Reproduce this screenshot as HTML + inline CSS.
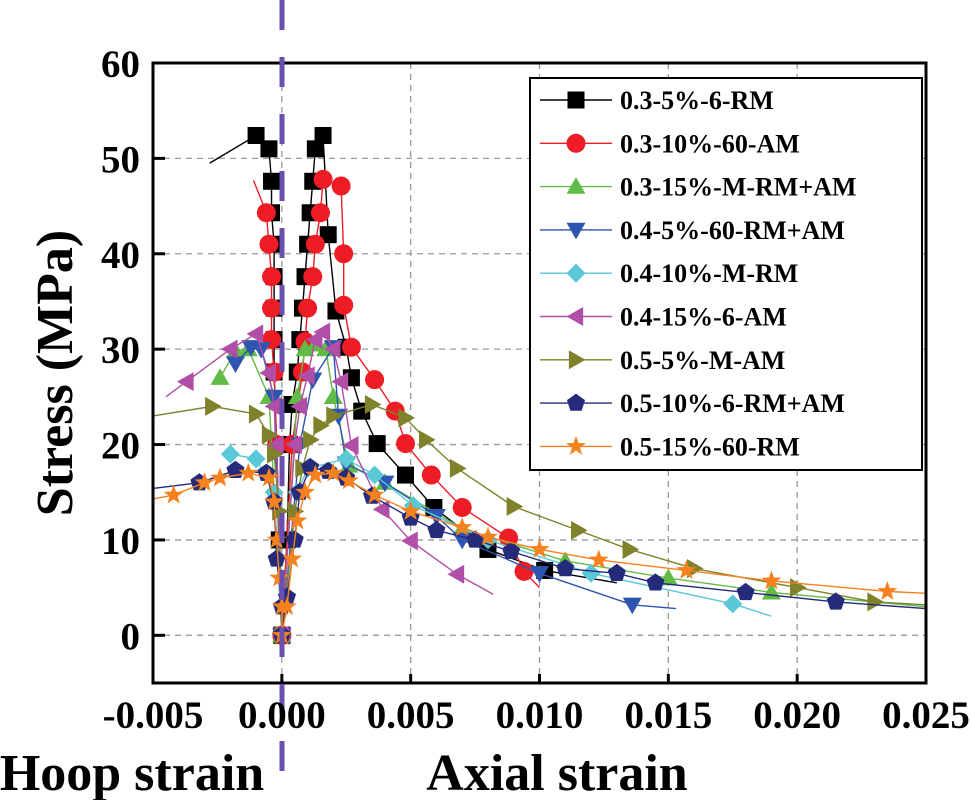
<!DOCTYPE html>
<html><head><meta charset="utf-8"><style>
body{margin:0;background:#fff;}
svg{display:block;font-family:"Liberation Serif",serif;font-weight:bold;}
</style></head><body>
<svg id="chart" width="971" height="800" xmlns="http://www.w3.org/2000/svg">
<defs><clipPath id="plotclip"><rect x="153" y="63" width="773" height="620"/></clipPath></defs>
<g id="grid"></g>
<g id="series" clip-path="url(#plotclip)"></g>
<rect x="153" y="63" width="773" height="620" fill="none" stroke="#000" stroke-width="3"/>
<line x1="282" y1="0" x2="282" y2="778" stroke="#6a4fb0" stroke-width="5" stroke-dasharray="30,27"/>
<g id="ticks"></g>
<text transform="translate(72,373) rotate(-90)" text-anchor="middle" font-size="52">Stress (MPa)</text>
<text x="132" y="790" text-anchor="middle" font-size="52">Hoop strain</text>
<text x="557" y="790" text-anchor="middle" font-size="52">Axial strain</text>
<g id="legend"></g>
</svg>
<script>
const seriesNames=["0.3-5%-6-RM","0.3-10%-60-AM","0.3-15%-M-RM+AM","0.4-5%-60-RM+AM","0.4-10%-M-RM","0.4-15%-6-AM","0.5-5%-M-AM","0.5-10%-6-RM+AM","0.5-15%-60-RM"];
const hoop1=[[0,0],[-0.0001,10],[-0.0002,20],[-0.0003,27.6],[-0.0003,31],[-0.0003,34.3],[-0.0003,37.6],[-0.0003,41],[-0.0004,44.3],[-0.0004,47.6],[-0.0005,51],[-0.0010,52.4],[-0.0028,49.5]];
const axial1=[[0,0],[0.0002,10],[0.0003,20],[0.0004,24.2],[0.0006,27.6],[0.0007,31],[0.0008,34.3],[0.0009,37.6],[0.0010,41],[0.0011,44.3],[0.0012,47.6],[0.0013,51],[0.0016,52.4],[0.0018,42],[0.0021,34],[0.0025,30.2],[0.0027,27],[0.0031,23.5],[0.0037,20.1],[0.0048,16.8],[0.0059,13.4],[0.0080,9],[0.0102,6.8],[0.0130,5.5]];
const hoop2=[[0,0],[-0.0002,20],[-0.0003,27.6],[-0.0004,31],[-0.0004,34.3],[-0.0004,37.6],[-0.0005,41],[-0.0006,44.3],[-0.0011,47.7]];
const axial2=[[0,0],[0.0004,20],[0.0008,27.6],[0.0009,30.8],[0.0010,34.3],[0.0012,37.6],[0.0013,41],[0.0015,44.3],[0.0016,47.8],[0.0023,47.1],[0.0024,40],[0.0024,34.6],[0.0027,30.2],[0.0036,26.8],[0.0044,23.5],[0.0048,20.1],[0.0058,16.8],[0.0070,13.4],[0.0088,10.2],[0.0094,6.7],[0.0100,5]];
const hoop3=[[0,0],[-0.0005,25],[-0.0013,30],[-0.0018,29.8],[-0.0024,27]];
const axial3=[[0,0],[0.0006,25],[0.0009,30],[0.0013,30.5],[0.0017,30],[0.0020,25],[0.0026,17.8],[0.0040,16],[0.0070,11.2],[0.0110,7.8],[0.0150,6],[0.0190,4.5],[0.0250,3]];
const hoop4=[[0,0],[-0.0003,25],[-0.0008,30],[-0.0012,30.2],[-0.0018,28.5]];
const axial4=[[0,0],[0.0007,20],[0.0012,26.8],[0.0020,30.2],[0.0022,23],[0.0025,18],[0.0040,16],[0.0060,12.5],[0.0070,10],[0.0100,6.5],[0.0136,3.2],[0.0153,2.8]];
const hoop5=[[0,0],[-0.0003,15],[-0.0010,18.5],[-0.0020,19]];
const axial5=[[0,0],[0.0006,15],[0.0010,17.5],[0.0025,18.5],[0.0036,16.8],[0.0051,13.6],[0.0080,10],[0.0120,6.5],[0.0175,3.3],[0.0190,2]];
const hoop6=[[0,0],[-0.0002,20],[-0.0003,24],[-0.0005,27.5],[-0.0010,31.6],[-0.0020,30],[-0.0037,26.6],[-0.0045,25]];
const axial6=[[0,0],[0.0005,20],[0.0007,24],[0.0010,27.2],[0.0013,31],[0.0016,31.8],[0.0020,30],[0.0023,26.6],[0.0027,19.9],[0.0039,13.2],[0.0050,9.9],[0.0068,6.4],[0.0082,4.3]];
const hoop7=[[0,0],[-0.0001,13],[-0.0003,19],[-0.0005,21],[-0.0010,23.2],[-0.0027,24],[-0.0050,23]];
const axial7=[[0,0],[0.0005,13],[0.0008,17.5],[0.0011,20.5],[0.0015,22],[0.0020,23],[0.0035,24.2],[0.0048,22.8],[0.0056,20.5],[0.0068,17.5],[0.0090,13.5],[0.0115,11],[0.0135,9],[0.0160,7],[0.0200,5],[0.0230,3.5],[0.0250,3.2]];
const hoop8=[[0,0],[0,3],[-0.0002,8],[-0.0003,14],[-0.0006,17],[-0.0018,17.3],[-0.0032,16],[-0.0050,15.4]];
const axial8=[[0,0],[0.0002,4],[0.0005,10],[0.0007,15],[0.0011,17.6],[0.0018,17.2],[0.0025,16.5],[0.0035,14.6],[0.0050,12.3],[0.0060,11],[0.0075,10],[0.0089,8.8],[0.0110,7],[0.0130,6.5],[0.0145,5.5],[0.0180,4.5],[0.0215,3.5],[0.0250,2.8]];
const hoop9=[[0,0],[0,3],[-0.0001,6],[-0.0002,10],[-0.0003,14],[-0.0005,16.5],[-0.0013,17],[-0.0024,16.5],[-0.0030,16],[-0.0042,14.7],[-0.0050,14.3]];
const axial9=[[0,0],[0.0002,3],[0.0004,8],[0.0006,12],[0.0009,15],[0.0013,16.8],[0.0020,17],[0.0026,16.2],[0.0036,14.7],[0.0050,13],[0.0070,11.3],[0.0080,10.3],[0.0100,9],[0.0123,7.9],[0.0157,6.8],[0.0190,5.7],[0.0235,4.6],[0.0250,4.4]];
const xTicks=[-0.005,0.000,0.005,0.010,0.015,0.020,0.025];
const xTickLabels=["-0.005","0.000","0.005","0.010","0.015","0.020","0.025"];
const yTicks=[0,10,20,30,40,50,60];
const yTickLabels=["0","10","20","30","40","50","60"];

const NS="http://www.w3.org/2000/svg";
const X0=153,X1=926,Y0=683,Y1=63;
const xs=v=>X0+(v+0.005)/0.030*(X1-X0);
const ys=v=>Y0-(v+5)/65*(Y0-Y1);
function mk(tag,at,parent){const e=document.createElementNS(NS,tag);for(const k in at)e.setAttribute(k,at[k]);parent.appendChild(e);return e;}
const grid=document.getElementById('grid'),ticks=document.getElementById('ticks');
xTicks.forEach((t,i)=>{
  if(i>0&&i<xTicks.length-1){const l=mk('line',{x1:xs(t),x2:xs(t),y1:Y1,y2:Y0,stroke:'#999','stroke-width':1.3,'stroke-dasharray':'6,5'},grid);
  
  }
  const tk=mk('line',{x1:xs(t),x2:xs(t),y1:Y0,y2:Y0-9,stroke:'#000','stroke-width':3},ticks);
  
  
  const tx=mk('text',{x:xs(t),y:728,'text-anchor':'middle','font-size':39},ticks);tx.textContent=xTickLabels[i];
  
  
});
yTicks.forEach((t,i)=>{
  if(t<60){const l=mk('line',{x1:X0,x2:X1,y1:ys(t),y2:ys(t),stroke:'#999','stroke-width':1.3,'stroke-dasharray':'6,5'},grid);
  
  }
  const tk=mk('line',{x1:X0,x2:X0+12,y1:ys(t),y2:ys(t),stroke:'#000','stroke-width':3},ticks);
  
  
  const tx=mk('text',{x:140,y:ys(t)+14,'text-anchor':'end','font-size':39},ticks);tx.textContent=yTickLabels[i];
  
  
});
const colors=['#000000','#ee1c24','#62bb46','#2e55b0','#5bc8d8','#b04ea8','#7f822a','#262a7a','#f5821f'];
const shapes=['square','circle','up','down','diamond','left','right','pentagon','star'];
const hoops=[hoop1,hoop2,hoop3,hoop4,hoop5,hoop6,hoop7,hoop8,hoop9];
const axials=[axial1,axial2,axial3,axial4,axial5,axial6,axial7,axial8,axial9];
function marker(shape,cx,cy,col,parent){
  const r=9.5;let e;
  if(shape==='square')e=mk('rect',{x:cx-8.5,y:cy-8.5,width:17,height:17,fill:col},parent);
  else if(shape==='circle')e=mk('circle',{cx,cy,r:9.5,fill:col},parent);
  else{let pts=[];
    if(shape==='up')pts=[[0,-r],[r,r*0.75],[-r,r*0.75]];
    if(shape==='down')pts=[[0,r],[r,-r*0.75],[-r,-r*0.75]];
    if(shape==='left')pts=[[-r,0],[r*0.75,-r],[r*0.75,r]];
    if(shape==='right')pts=[[r,0],[-r*0.75,-r],[-r*0.75,r]];
    if(shape==='diamond')pts=[[0,-r],[r,0],[0,r],[-r,0]];
    if(shape==='pentagon')for(let k=0;k<5;k++){const a=-Math.PI/2+k*2*Math.PI/5;pts.push([r*Math.cos(a),r*Math.sin(a)]);}
    if(shape==='star')for(let k=0;k<10;k++){const a=-Math.PI/2+k*Math.PI/5,rr=k%2?r*0.45:r*1.1;pts.push([rr*Math.cos(a),rr*Math.sin(a)]);}
    e=mk('polygon',{points:pts.map(p=>(cx+p[0])+','+(cy+p[1])).join(' '),fill:col},parent);}
  return e;
}
const sg=document.getElementById('series');
for(let i=0;i<9;i++){
  const g=mk('g',{},sg);
  
  
  [hoops[i],axials[i]].forEach((arr,j)=>{
    const pl=mk('polyline',{points:arr.map(p=>xs(p[0])+','+ys(p[1])).join(' '),fill:'none',stroke:colors[i],'stroke-width':1.4},g);
    
    
    arr.forEach((p,k)=>{if(k===arr.length-1&&arr.length>5)return;
      const m=marker(shapes[i],xs(p[0]),ys(p[1]),colors[i],g);
      
      });
  });
}
const lg=document.getElementById('legend');
const box=mk('rect',{x:530,y:78,width:392,height:392,fill:'#fff',stroke:'#000','stroke-width':2},lg);


seriesNames.forEach((n,i)=>{
  const y=100+i*43.3;
  const g=mk('g',{},lg);
  
  
  mk('line',{x1:540,x2:612,y1:y,y2:y,stroke:colors[i],'stroke-width':1.4},g);
  marker(shapes[i],576,y,colors[i],g);
  const t=mk('text',{x:620,y:y+9,'font-size':26},g);t.textContent=n;
});
</script>
</body></html>
